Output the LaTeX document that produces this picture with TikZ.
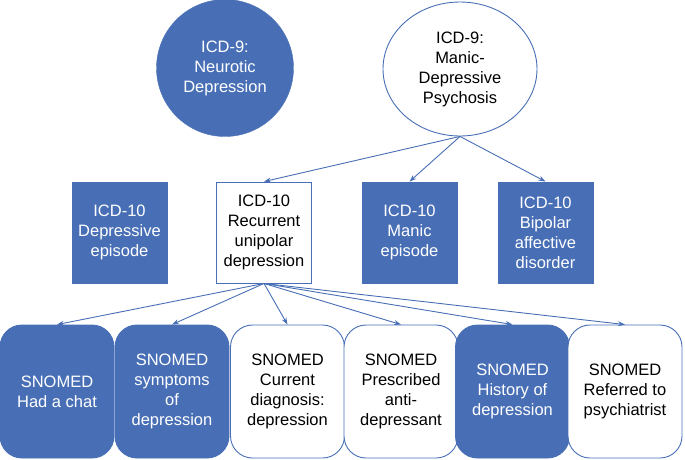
\documentclass[tikz,border=0pt]{standalone}
\usepackage{fontspec}
\setmainfont{Liberation Sans}
\usetikzlibrary{shapes.geometric,arrows.meta}
\definecolor{cblue}{RGB}{72,111,182}
\tikzset{
  every node/.style={font=\fontsize{16.5}{20}\selectfont, align=center, inner sep=0pt},
  filled/.style={fill=cblue, draw=cblue, text=white},
  hollow/.style={fill=white, draw=cblue, text=black},
  midbox/.style={rectangle, minimum width=95pt, minimum height=101pt, line width=0.9pt},
  botbox/.style={rectangle, rounded corners=22pt, minimum width=114pt, minimum height=133pt, line width=0.9pt},
  conn/.style={draw=cblue, line width=0.9pt, -{Stealth[length=7pt,width=5pt]}}
}
\begin{document}
\begin{tikzpicture}[x=1pt,y=-1pt]
\path[use as bounding box] (0,0) rectangle (685,459);
\node[filled, circle, minimum size=137pt] (nd) at (225,68) {ICD-9:\\Neurotic\\Depression};
\node[hollow, ellipse, minimum width=154pt, minimum height=134pt, line width=0.9pt] (mdp) at (460,69) {ICD-9:\\Manic-\\Depressive\\Psychosis};

\node[filled, midbox] (de) at (119.5,232.5) {ICD-10\\Depressive\\episode};
\node[hollow, midbox] (ru) at (264,232.5) {ICD-10\\Recurrent\\unipolar\\depression};
\node[filled, midbox] (me) at (409.5,232.5) {ICD-10\\Manic\\episode};
\node[filled, midbox] (ba) at (545.5,232.5) {ICD-10\\Bipolar\\affective\\disorder};

\node[filled, botbox] (s1) at (57,391.5) {SNOMED\\Had a chat};
\node[filled, botbox] (s2) at (172,391.5) {SNOMED\\symptoms\\of\\depression};
\node[hollow, botbox] (s3) at (287.5,391.5) {SNOMED\\Current\\diagnosis:\\depression};
\node[hollow, botbox] (s4) at (401,391.5) {SNOMED\\Prescribed\\anti-\\depressant};
\node[filled, botbox] (s5) at (512.5,391.5) {SNOMED\\History of\\depression};
\node[hollow, botbox] (s6) at (625,391.5) {SNOMED\\Referred to\\psychiatrist};

\draw[conn] (mdp.south) -- (ru.north);
\draw[conn] (mdp.south) -- (me.north);
\draw[conn] (mdp.south) -- (ba.north);

\foreach \t in {s1,s2,s3,s4,s5,s6}
  \draw[conn] (ru.south) -- (\t.north);
\end{tikzpicture}
\end{document}
